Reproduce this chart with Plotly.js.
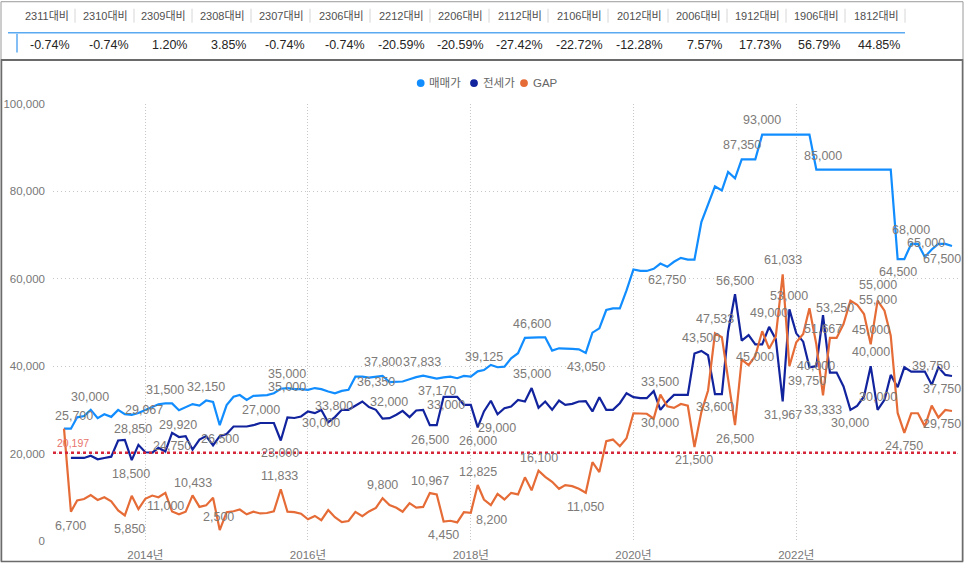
<!DOCTYPE html>
<html><head><meta charset="utf-8">
<script src="https://cdn.plot.ly/plotly-3.0.1.min.js"></script>
<style>html,body{margin:0;padding:0;background:#fff}#chart{width:966px;height:564px}</style>
</head><body><div id="chart"></div>
<script>
// ---------- categories (monthly, 2013-01 .. 2023-12) ----------
const startYear = 2013, monthCount = 132;
const months = [];
for (let k = 0; k < monthCount; k++) {
  const y = startYear + Math.floor(k / 12), m = (k % 12) + 1;
  months.push(y + '-' + String(m).padStart(2, '0') + '-01');
}

// ---------- series values ----------
const sale = [
 25700,25700,28300,28600,30000,28100,29000,28400,30000,29000,28850,29300,
 29967,30600,31300,31500,31500,29920,30700,31333,31000,32150,31800,26500,
 31100,33000,33400,32300,33200,33300,33400,33800,34833,35000,34750,34750,
 34600,35000,34750,34200,33800,34350,34600,37600,37600,37400,37600,37800,
 36350,36500,36500,37000,37500,37833,37467,37170,37450,37630,37250,37780,
 37630,38825,39125,40290,39760,39910,41800,42960,46500,46600,46600,46600,
 43570,44100,43950,43950,43870,43050,47680,48670,52850,53230,53230,57335,
 62140,61800,61800,62300,63500,62750,63900,64800,64400,64400,73000,76950,
 81133,80240,84430,83000,87350,87350,87350,93000,93000,93000,93000,93000,
 93000,93000,93000,85000,85000,85000,85000,85000,85000,85000,85000,85000,
 85000,85000,85000,64500,64500,68000,68000,65000,66700,68000,68000,67500
];
const jeonse = [
 null,19000,19000,19000,19500,18700,19000,19300,23000,23150,18500,22000,
 20300,20200,21300,20500,24750,23800,24000,20900,23200,24000,21900,24000,
 24500,26200,26200,26200,26500,27000,27000,27000,23000,28300,28150,28500,
 29640,29260,30000,27130,28350,30020,30020,30930,31920,30630,30020,28000,
 28120,28880,29790,28350,29870,30020,26500,26500,33000,33000,33000,31160,
 31160,26000,29640,32090,29000,30400,30780,32300,31920,35000,30500,31920,
 30020,32150,31160,31390,31920,32000,29640,32910,30020,30020,31540,33820,
 32910,32680,32680,34300,30000,31920,33440,33440,33440,42900,43500,42500,
 33600,33600,47900,56500,45850,47120,45000,45000,49000,46200,31967,53000,
 47520,45620,39750,40000,51667,38540,38540,35350,30000,30930,33060,40000,
 30000,32300,38010,35200,39750,38770,38770,38770,35730,39750,38010,37750
];
const gap = [
 25700,6700,9300,9600,10500,9400,10000,9100,7000,5850,10350,7300,
 9667,10400,10000,11000,6750,6120,6700,10433,7800,8150,9900,2500,
 6600,6800,7200,6100,6700,6300,6400,6800,11833,6700,6600,6250,
 4960,5740,4750,7070,5450,4330,4580,6670,5680,6770,7580,9800,
 8230,7620,6710,8650,7630,7813,10967,10670,4450,4630,4250,6620,
 6470,12825,9485,8200,10760,9510,11020,10660,14580,11600,16100,14680,
 13550,11950,12790,12560,11950,11050,18040,15760,22830,23210,21690,23515,
 29230,29120,29120,28000,33500,30830,30460,31360,30960,21500,29500,34450,
 47533,46640,36530,26500,41500,40230,42350,48000,44000,46800,61033,40000,
 45480,47380,53250,45000,33333,46460,46460,49650,55000,54070,51940,45000,
 55000,52700,46990,29300,24750,29230,29230,26230,30970,28250,29990,29750
];
const gapAverage = 20197;
const seriesNames = ['매매가', '전세가', 'GAP'];

// ---------- comparison table ----------
const compareHeaders = ['2311대비','2310대비','2309대비','2308대비','2307대비','2306대비','2212대비','2206대비','2112대비','2106대비','2012대비','2006대비','1912대비','1906대비','1812대비'];
const compareValues = ['-0.74%','-0.74%','1.20%','3.85%','-0.74%','-0.74%','-20.59%','-20.59%','-27.42%','-22.72%','-12.28%','7.57%','17.73%','56.79%','44.85%'];

// ---------- data labels shown on the chart: [series, index, text] ----------
const labelPoints = [
 ['sale',0,'25,700'],['sale',4,'30,000'],['sale',10,'28,850'],['sale',12,'29,967'],
 ['sale',15,'31,500'],['sale',17,'29,920'],['sale',21,'32,150'],['sale',23,'26,500'],
 ['jeonse',29,'27,000'],['sale',33,'35,000'],['sale',33,'35,000'],['jeonse',32,'23,000'],
 ['jeonse',38,'30,000'],['sale',40,'33,800'],['sale',47,'37,800'],['sale',46,'36,350'],
 ['jeonse',48,'32,000'],['sale',53,'37,833'],['jeonse',54,'26,500'],['sale',55,'37,170'],
 ['jeonse',56,'33,000'],['sale',62,'39,125'],['jeonse',61,'26,000'],['jeonse',64,'29,000'],
 ['jeonse',69,'35,000'],['sale',69,'46,600'],['sale',77,'43,050'],['sale',89,'62,750'],
 ['sale',100,'87,350'],['sale',103,'93,000'],['sale',112,'85,000'],['sale',125,'68,000'],
 ['sale',127,'65,000'],['sale',123,'64,500'],['sale',131,'67,500'],
 ['gap',1,'6,700'],['gap',9,'5,850'],['gap',15,'11,000'],['gap',19,'10,433'],['gap',23,'2,500'],
 ['jeonse',16,'24,750'],['jeonse',10,'18,500'],['gap',32,'11,833'],['gap',47,'9,800'],
 ['gap',54,'10,967'],['gap',56,'4,450'],['gap',61,'12,825'],['gap',63,'8,200'],
 ['gap',70,'16,100'],['gap',77,'11,050'],['jeonse',88,'30,000'],['gap',88,'33,500'],
 ['gap',93,'21,500'],['jeonse',94,'43,500'],['gap',96,'47,533'],['jeonse',96,'33,600'],
 ['gap',99,'26,500'],['jeonse',99,'56,500'],['jeonse',102,'45,000'],['jeonse',104,'49,000'],
 ['gap',106,'61,033'],['jeonse',106,'31,967'],['jeonse',107,'53,000'],['jeonse',110,'39,750'],
 ['jeonse',111,'40,000'],['jeonse',112,'51,667'],['gap',110,'53,250'],['gap',112,'33,333'],
 ['jeonse',116,'30,000'],['gap',119,'45,000'],['jeonse',119,'40,000'],['gap',120,'55,000'],
 ['gap',120,'55,000'],['jeonse',120,'30,000'],['gap',124,'24,750'],['jeonse',129,'39,750'],
 ['jeonse',131,'37,750'],['gap',131,'29,750']
];
// pixel offsets of each label from its point [dx, dy(up)]
const labelOffsets = [
 [10,13],[-1,13.4],[1,-14],[-1,0],[0,13.5],[-1,-14.6],[0,13.7],[0,-13.6],
 [1,13.2],[0,14],[0,1],[-1,-13],[0,-12.6],[-1,-13.2],[0,14],[0,-5],
 [0,16.6],[-1,13.8],[0,-14.6],[0,-12.5],[2,-8],[0,13.4],[0,-13.4],[-1,-13.8],
 [0,13.9],[0,13.1],[0,-13.8],[0,-13.4],[0,13.9],[0,14.1],[0,13.5],[0,13.6],
 [1,14.1],[0,-12.7],[-10,-13.2],
 [0,-13.8],[5,-13.4],[0,-13.4],[0,12.5],[-1,13.2],
 [0,-13.6],[-1,-13.5],[-1,13],[0,12.9],[0,12.5],[0,-13],[0,12.6],[1,-14.4],
 [0,12.7],[0,-14.2],[0,-13.2],[0,13.1],[0,-12.7],[0,12.7],[0,14],[0,-12.4],
 [0,-13.9],[0,13.3],[0,-12.9],[0,13.6],[0,14.2],[0,-13.5],[0,13.3],[-2,-13.3],
 [0,0],[0,-14],[26,0],[0,-14.5],[0,-12.6],[0,14.4],[0,14.6],[0,15.6],
 [0,0.6],[0,13.4],[0,-13.6],[-7,1],[-10,-13.2],[-10,-12.8]
];

// ---------- styling / geometry ----------
const colors = {sale:'#118DFF', jeonse:'#12239E', gap:'#E66C37'};
const seriesData = {sale:sale, jeonse:jeonse, gap:gap};
const FONT = 'Segoe UI, Liberation Sans, Noto Sans CJK KR, sans-serif';
const L = 53, T = 103.5, W = 905, H = 438;
const px = x => (x - L) / W;
const py = y => 1 - (y - T) / H;

const traces = [
  {x: months, y: sale, name: seriesNames[0], type:'scatter', mode:'lines', line:{color:colors.sale, width:2.2}, showlegend:false},
  {x: months, y: jeonse, name: seriesNames[1], type:'scatter', mode:'lines', line:{color:colors.jeonse, width:2.2}, showlegend:false},
  {x: months, y: gap, name: seriesNames[2], type:'scatter', mode:'lines', line:{color:colors.gap, width:2.2}, showlegend:false}
];

const annotations = [];
labelPoints.forEach((lp, k) => {
  const [s, i, t] = lp, off = labelOffsets[k];
  annotations.push({x: months[i], y: seriesData[s][i], xref:'x', yref:'y', text: t, showarrow:false,
    xshift: off[0], yshift: off[1], font:{family:FONT, size:12.5, color:'#7d7a78'}});
});
// average label
annotations.push({x: px(55), y: gapAverage, xref:'paper', yref:'y', text: gapAverage.toLocaleString('en-US'),
  xanchor:'left', showarrow:false, yshift: 10, font:{family:FONT, size:10.5, color:'#E8736C'}});

// legend (manual)
const legendItems = [
  {cx:420.7, tx:427, name:seriesNames[0], color:colors.sale},
  {cx:474, tx:480.5, name:seriesNames[1], color:colors.jeonse},
  {cx:524, tx:530.5, name:seriesNames[2], color:colors.gap}
];
const shapes = [];
legendItems.forEach(it => {
  shapes.push({type:'circle', xref:'paper', yref:'paper', xsizemode:'pixel', ysizemode:'pixel',
    xanchor: px(it.cx), yanchor: py(82.5), x0:-3.9, x1:3.9, y0:-3.9, y1:3.9,
    fillcolor: it.color, line:{width:0}});
  annotations.push({x: px(it.tx), y: py(82.5), xref:'paper', yref:'paper', xanchor:'left', yanchor:'middle',
    text: it.name, showarrow:false, font:{family:FONT, size:11.5, color:'#666'}});
});

// comparison table
const colRight = [71,130,188,247,306,366,426,485,544,604,664,723,782,841,901];
compareHeaders.forEach((h, k) => {
  annotations.push({x: px(colRight[k]), y: py(15), xref:'paper', yref:'paper', xanchor:'right', yanchor:'middle',
    text: h, showarrow:false, font:{family:FONT, size:11, color:'#505050'}});
  annotations.push({x: px(colRight[k] + 1), y: py(44), xref:'paper', yref:'paper', xanchor:'right', yanchor:'middle',
    text: compareValues[k], showarrow:false, font:{family:FONT, size:12.5, color:'#252423'}});
  shapes.push({type:'line', xref:'paper', yref:'paper', x0:px(colRight[k] + 4), x1:px(colRight[k] + 4),
    y0:py(8), y1:py(22), line:{color:'#d6d6d6', width:1}});
});
shapes.push({type:'line', xref:'paper', yref:'paper', x0:px(8), x1:px(905), y0:py(32), y1:py(32), line:{color:'#5AAAF2', width:1.5}});
shapes.push({type:'line', xref:'paper', yref:'paper', x0:px(17), x1:px(17), y0:py(33), y1:py(52), line:{color:'#5AAAF2', width:1.5}});
// frames
shapes.push({type:'rect', xref:'paper', yref:'paper', x0:px(1), x1:px(963), y0:py(1), y1:py(562), line:{color:'#9a9a9a', width:1}});
shapes.push({type:'line', xref:'paper', yref:'paper', x0:px(1), x1:px(963), y0:py(59.5), y1:py(59.5), line:{color:'#6b6b6b', width:2}});
shapes.push({type:'rect', xref:'paper', yref:'paper', x0:px(1.5), x1:px(962.5), y0:py(59.5), y1:py(562), line:{color:'#6b6b6b', width:1.5}});
// average line
shapes.push({type:'line', xref:'paper', yref:'y', x0:0, x1:1, y0:gapAverage, y1:gapAverage, line:{color:'#D5263A', width:2.5, dash:'dot'}});

const layout = {
  width:966, height:564, margin:{l:L, r:966-L-W, t:T, b:564-T-H}, paper_bgcolor:'#fff', plot_bgcolor:'#fff',
  showlegend:false, hovermode:false,
  xaxis:{type:'date', range:['2012-11-12 14:00','2023-12-27 22:00'], tick0:'2014-01-01', dtick:'M24', tickformat:'%Y년',
    showgrid:true, gridcolor:'#c8c8c8', griddash:'1px,2px', gridwidth:1, zeroline:false, showline:false, ticks:'',
    ticklabelstandoff:5, tickfont:{family:FONT, size:11.5, color:'#777'}},
  yaxis:{range:[0,100000], tickvals:[0,20000,40000,60000,80000,100000], tickformat:',d',
    showgrid:true, gridcolor:'#c8c8c8', griddash:'1px,3px', gridwidth:1, zeroline:false, showline:false, ticks:'',
    ticklabelstandoff:7, tickfont:{family:FONT, size:11.5, color:'#777'}},
  annotations: annotations, shapes: shapes
};
Plotly.newPlot('chart', traces, layout, {staticPlot:true, displayModeBar:false});
</script></body></html>
